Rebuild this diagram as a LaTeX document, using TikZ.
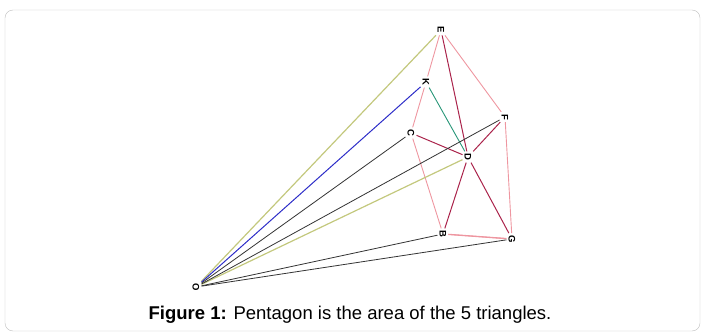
\documentclass[tikz,border=0pt]{standalone}
\usepackage{fontspec}
\setmainfont{Liberation Sans}
\usepackage{tikz}
\usetikzlibrary{positioning}

\definecolor{penta}{RGB}{238,150,160}
\definecolor{spoke}{RGB}{170,35,75}
\definecolor{olive}{RGB}{195,200,125}
\definecolor{lineblue}{RGB}{45,45,200}
\definecolor{teal}{RGB}{40,150,120}

\begin{document}
\begin{tikzpicture}[x=1pt,y=-1pt,
  pt/.style={inner sep=2pt,font=\fontsize{9.5}{9.5}\selectfont\bfseries,rotate=-90},
  edge/.style={line width=0.9pt,penta},
  ray/.style={line width=0.8pt,black!80}]
\useasboundingbox (0,0) rectangle (705,334);
\draw[black!25,rounded corners=8pt] (5,10) rectangle (700,331);
% points
\node[pt] (E) at (441,30) {E};
\node[pt] (K) at (426,82) {K};
\node[pt] (C) at (411,133) {C};
\node[pt] (F) at (505,117) {F};
\node[pt] (D) at (468,157) {D};
\node[pt] (B) at (443,234) {B};
\node[pt] (G) at (512,239) {G};
\node[pt] (O) at (196,287) {O};
% pentagon
\draw[edge] (E) -- (K) -- (C) -- (B) -- (G) -- (F) -- (E);
\draw[edge,line width=1.3pt] (B) -- (G);
% the 5 triangles
\foreach \v in {E,F,G,B,C}
  \draw[line width=1pt,spoke] (D) -- (\v);
\draw[line width=0.9pt,teal] (K) -- (D);
% lines from O
\draw[line width=1.2pt,olive] (O) -- (E);
\draw[line width=1.2pt,olive] (O) -- (D);
\draw[line width=1pt,lineblue] (O) -- (K);
\foreach \v in {C,F,B,G}
  \draw[ray] (O) -- (\v);
\node (cap) at (350,315) {\fontsize{18.5}{18.5}\selectfont\textbf{Figure 1:} Pentagon is the area of the 5 triangles.};
\end{tikzpicture}
\end{document}
